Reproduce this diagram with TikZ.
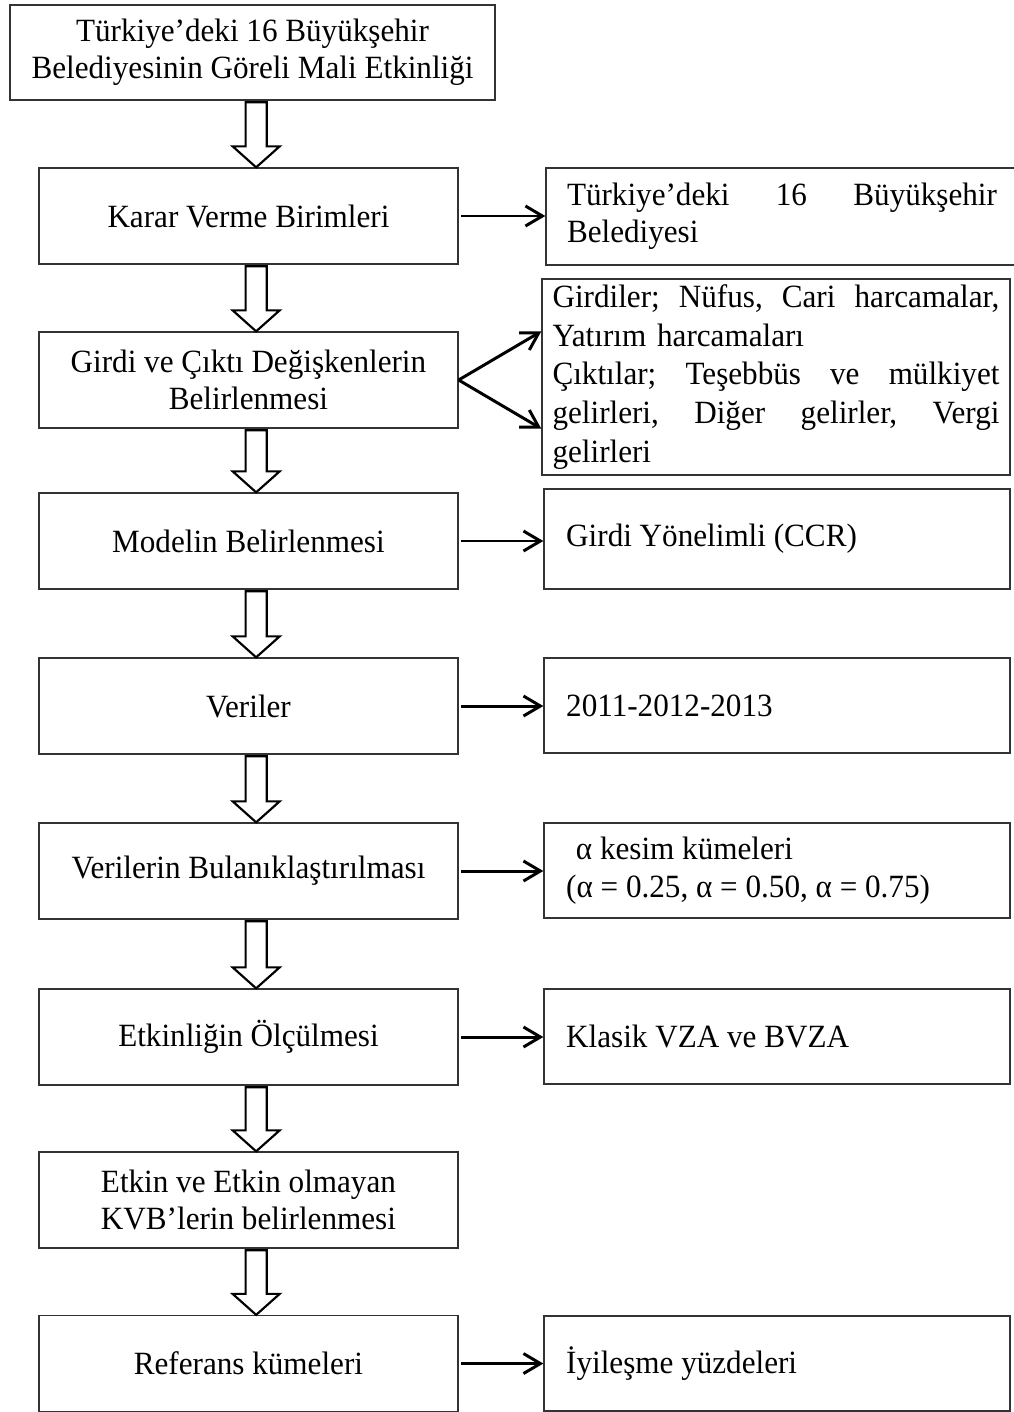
\documentclass[tikz,border=0pt]{standalone}
\usepackage{fontspec}
\setmainfont{Liberation Serif}[FakeStretch=0.96]
\usetikzlibrary{arrows.meta,calc}

\begin{document}
\begin{tikzpicture}[every node/.style={font=\fontsize{12}{13.8}\selectfont},
	box/.style={draw=black!80, line width=0.5pt, inner sep=0pt, align=center},
	leftbox/.style={box, minimum width=5.447cm, minimum height=1.248cm},
	rightbox/.style={box, minimum width=6.058cm, minimum height=1.235cm, text width=5.48cm, align=flush left},
	hollow/.style={draw, line width=0.8pt, line join=miter},
	>={Straight Barb[length=2.2mm,width=2.6mm]}]
	\useasboundingbox (0,0) rectangle (13.182,-18.356);
	\node[box, minimum width=6.305cm, minimum height=1.235cm] (title) at (3.283,-0.683) {Türkiye’deki 16 Büyükşehir\\Belediyesinin Göreli Mali Etkinliği};
	\node[leftbox] (karar) at (3.23,-2.808) {Karar Verme Birimleri};
	\node[leftbox] (girdi) at (3.23,-4.94) {Girdi ve Çıktı Değişkenlerin\\Belirlenmesi};
	\node[leftbox] (model) at (3.23,-7.033) {Modelin Belirlenmesi};
	\node[leftbox] (veri) at (3.23,-9.178) {Veriler};
	\node[leftbox] (bulanik) at (3.23,-11.323) {Verilerin Bulanıklaştırılması};
	\node[leftbox] (olcum) at (3.23,-13.481) {Etkinliğin Ölçülmesi};
	\node[leftbox] (etkin) at (3.23,-15.6) {Etkin ve Etkin olmayan\\KVB’lerin belirlenmesi};
	\node[leftbox] (referans) at (3.23,-17.726) {Referans kümeleri};
	\node[rightbox, align=left, minimum width=6.136cm, minimum height=1.261cm, text width=5.59cm] (r1) at (10.166,-2.815) {Türkiye’deki\hfill 16\hfill Büyükşehir\\Belediyesi};
	\node[rightbox, align=left, minimum width=6.084cm, minimum height=2.548cm, text width=5.81cm, font=\fontsize{12}{14.3}\selectfont] (r2) at (10.088,-4.901) {Girdiler;\hfill Nüfus,\hfill Cari\hfill harcamalar,\\Yatırım harcamaları\\Çıktılar;\hfill Teşebbüs\hfill ve\hfill mülkiyet\\gelirleri,\hfill Diğer\hfill gelirler,\hfill Vergi\\gelirleri};
	\node[rightbox, minimum height=1.3cm] (r3) at (10.101,-7.007) {Girdi Yönelimli (CCR)};
	\node[rightbox] (r4) at (10.101,-9.172) {2011-2012-2013};
	\node[rightbox] (r5) at (10.101,-11.317) {\hspace*{0.3em}α kesim kümeleri\\(α = 0.25, α = 0.50, α = 0.75)};
	\node[rightbox] (r6) at (10.101,-13.475) {Klasik VZA ve BVZA};
	\node[rightbox] (r7) at (10.101,-17.726) {İyileşme yüzdeleri};
	\foreach \a/\b in {title/karar,karar/girdi,girdi/model,model/veri,veri/bulanik,bulanik/olcum,olcum/etkin,etkin/referans}
		\draw[hollow] ($(\a.south -| \b.north)+(-0.037,-0.02)$) -- ($(\b.north)+(-0.037,0.273)$) -- ($(\b.north)+(-0.206,0.273)$) -- ($(\b.north)+(0.1,0)$) -- ($(\b.north)+(0.406,0.273)$) -- ($(\b.north)+(0.237,0.273)$) -- ($(\a.south -| \b.north)+(0.237,-0.02)$) -- cycle;
	\foreach \a/\b in {karar/r1,model/r3,veri/r4,bulanik/r5,olcum/r6,referans/r7}
		\draw[->, line width=1.1pt, shorten <=1pt] (\a.east) -- (\b.west |- \a.east);
	\draw[->, line width=1.1pt] (girdi.east) -- (r2.west |- girdi.north);
	\draw[->, line width=1.1pt] (girdi.east) -- (r2.west |- girdi.south);
\end{tikzpicture}
\end{document}
